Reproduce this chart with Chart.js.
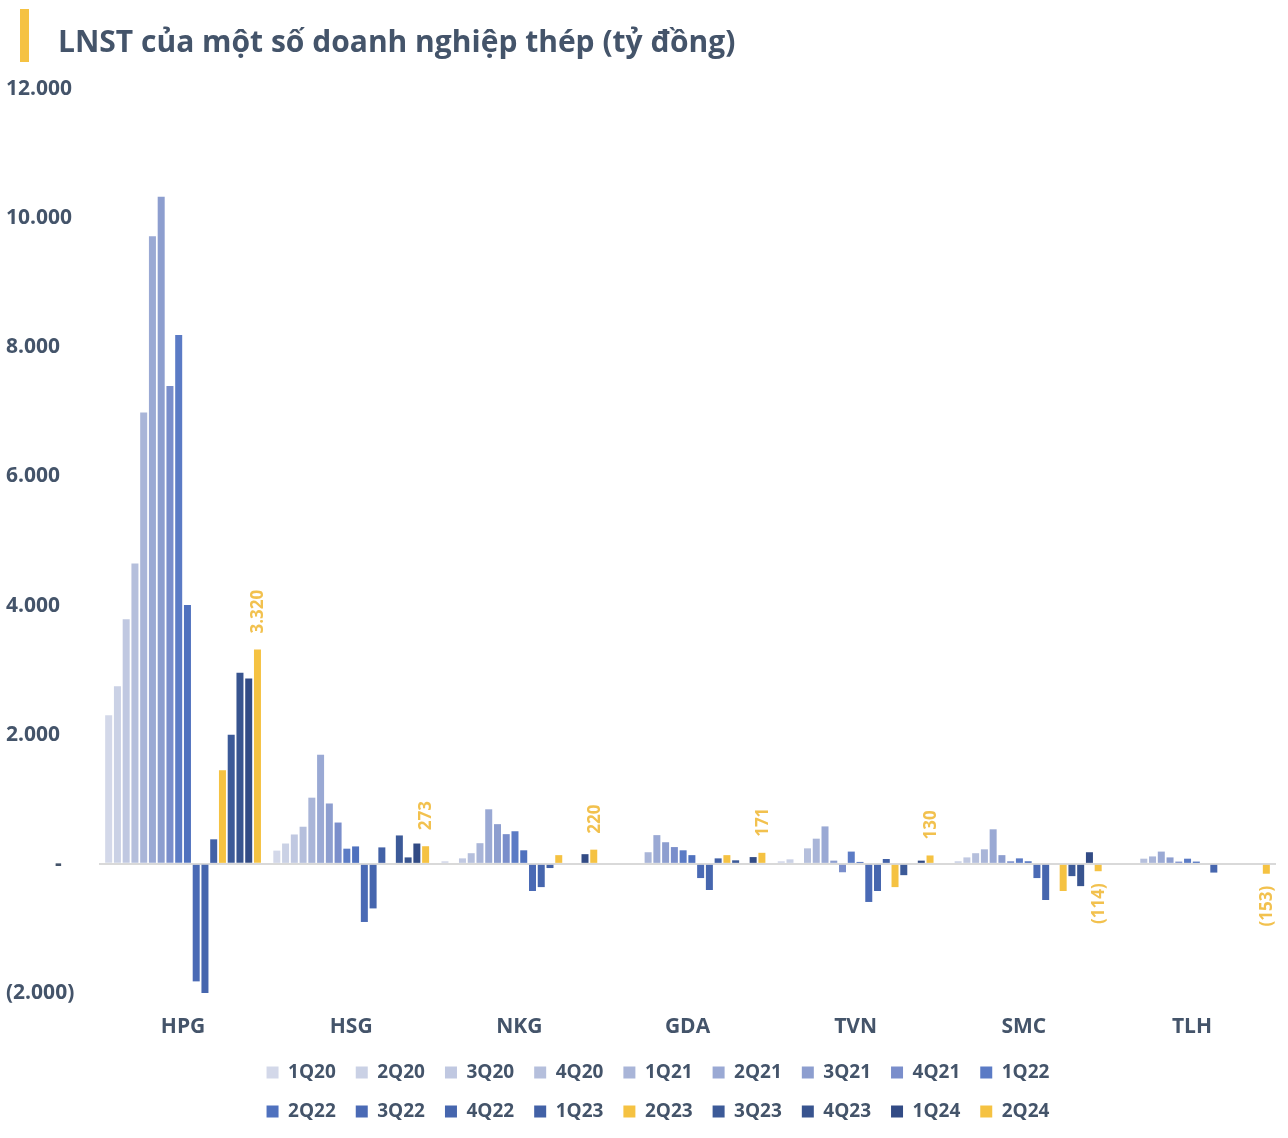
<!DOCTYPE html>
<html>
<head>
<meta charset="utf-8">
<script src="https://cdn.jsdelivr.net/npm/chart.js@4/dist/chart.umd.min.js"></script>
<style>
    body { margin: 0; background: #fff; }
    #wrap { position: relative; width: 1288px; height: 1138px; }
    #bar { position: absolute; left: 20px; top: 9px; width: 9px; height: 53px; background: #f5c242; }
    #title { position: absolute; left: 58px; top: 20px; font: bold 30px "Open Sans", sans-serif; color: #44546a; white-space: nowrap; }
    canvas { position: absolute; left: 0; top: 0; }
</style>
</head>
<body>
<div id="wrap">
    <canvas id="chart" width="1288" height="1138"></canvas>
    <div id="bar"></div>
    <div id="title">LNST của một số doanh nghiệp thép (tỷ đồng)</div>
</div>
<script>
// LNST by company, 1Q20 -> 2Q24 (tỷ đồng)
const companies = ['HPG', 'HSG', 'NKG', 'GDA', 'TVN', 'SMC', 'TLH'];
const quarters = ['1Q20', '2Q20', '3Q20', '4Q20', '1Q21', '2Q21', '3Q21', '4Q21', '1Q22',
                  '2Q22', '3Q22', '4Q22', '1Q23', '2Q23', '3Q23', '4Q23', '1Q24', '2Q24'];

const hpg = [2300, 2750, 3790, 4650, 6990, 9720, 10330, 7400, 8190, 4010, -1820, -2020, 380, 1450, 2000, 2960, 2870, 3320];
const hsg = [205, 315, 455, 575, 1025, 1690, 935, 640, 235, 270, -900, -690, 255, 0, 440, 100, 315, 273];
const nkg = [40, 0, 85, 165, 320, 845, 615, 460, 505, 210, -420, -360, -65, 135, 0, 0, 150, 220];
const gda = [0, 0, 0, 0, 180, 445, 335, 260, 210, 135, -220, -405, 85, 135, 55, 0, 105, 171];
const tvn = [40, 70, 0, 240, 390, 580, 50, -130, 190, 30, -590, -420, 75, -360, -175, 0, 50, 130];
const smc = [0, 40, 100, 165, 225, 535, 135, 40, 85, 40, -220, -560, 0, -420, -190, -345, 180, -114];
const tlh = [0, 0, 0, 80, 115, 190, 100, 35, 80, 35, 0, -135, 0, 0, 0, 0, 0, -153];

const colors = ['#d3d8e9', '#cad1e5', '#c0c8e1', '#b5bfdc', '#a9b5d8', '#9aa9d4', '#8d9ecf', '#7a8ecb', '#5b7bc5',
                '#4f71be', '#4a6ab5', '#4666ae', '#4261a6', '#f5c242', '#3c5a98', '#38548f', '#324b85', '#f5c242'];

const textColor = '#44546a';
const fontFamily = '"Open Sans", sans-serif';

function fmt(v) {
    if (v === 0) return '-';
    const s = Math.abs(v).toString().replace(/\B(?=(\d{3})+(?!\d))/g, '.');
    return v < 0 ? '(' + s + ')' : s;
}

const rows = [hpg, hsg, nkg, gda, tvn, smc, tlh];
const datasets = quarters.map((q, i) => ({
    label: q,
    data: rows.map(r => r[i]),
    backgroundColor: colors[i],
    categoryPercentage: 0.937,
    barPercentage: 0.8
}));

// labels on the last quarter only, rotated
const lastLabels = {
    id: 'lastLabels',
    afterDatasetsDraw(chart) {
        const idx = chart.data.datasets.length - 1;
        const meta = chart.getDatasetMeta(idx);
        const ctx = chart.ctx;
        ctx.save();
        ctx.font = 'bold 17px ' + fontFamily;
        ctx.fillStyle = '#f2c14e';
        ctx.textBaseline = 'middle';
        meta.data.forEach((bar, i) => {
            const v = chart.data.datasets[idx].data[i];
            ctx.save();
            ctx.translate(bar.x + 1, v >= 0 ? bar.y - 16 : bar.y + 12);
            ctx.rotate(-Math.PI / 2);
            ctx.textAlign = v >= 0 ? 'left' : 'right';
            ctx.fillText(fmt(v), 0, 0);
            ctx.restore();
        });
        ctx.restore();
    }
};

// make the legend wrap at 9 items per row (fit for the height, draw for the rows)
const legendWrap = {
    id: 'legendWrap',
    afterInit(chart) {
        const lg = chart.legend;
        const origFit = lg.fit.bind(lg);
        const origDraw = lg.draw.bind(lg);
        lg.fit = function () {
            const w = this.maxWidth;
            this.maxWidth = 850;
            origFit();
            this.maxWidth = w;
            this.width = w;
        };
        lg.draw = function () {
            const l = this.left, r = this.right;
            this.left = 658 - 425;
            this.right = 658 + 425;
            origDraw();
            this.left = l;
            this.right = r;
        };
    }
};

new Chart(document.getElementById('chart'), {
    type: 'bar',
    data: { labels: companies, datasets: datasets },
    plugins: [lastLabels, legendWrap],
    options: {
        responsive: false,
        animation: false,
        layout: { padding: { top: 89, left: 6, right: 12, bottom: 7 } },
        plugins: {
            legend: {
                position: 'bottom',
                labels: {
                    boxWidth: 12,
                    boxHeight: 12,
                    padding: 20,
                    color: textColor,
                    font: { family: fontFamily, size: 19, weight: 'bold' }
                }
            },
            tooltip: { enabled: false }
        },
        scales: {
            x: {
                afterFit(scale) { scale.height = 50; },
                grid: { display: false, drawTicks: false },
                border: { display: false },
                ticks: {
                    color: textColor,
                    padding: 21,
                    font: { family: fontFamily, size: 21, weight: 'bold' }
                }
            },
            y: {
                min: -2000,
                max: 12000,
                afterFit(scale) { scale.width = 93; },
                border: { display: false },
                grid: {
                    drawTicks: false,
                    lineWidth: 2,
                    color: c => c.tick && c.tick.value === 0 ? '#d9d9d9' : 'rgba(0,0,0,0)'
                },
                ticks: {
                    stepSize: 2000,
                    crossAlign: 'far',
                    color: textColor,
                    font: { family: fontFamily, size: 21, weight: 'bold' },
                    callback: v => v === 0 ? '         -' : fmt(v)
                }
            }
        }
    }
});
</script>
</body>
</html>
